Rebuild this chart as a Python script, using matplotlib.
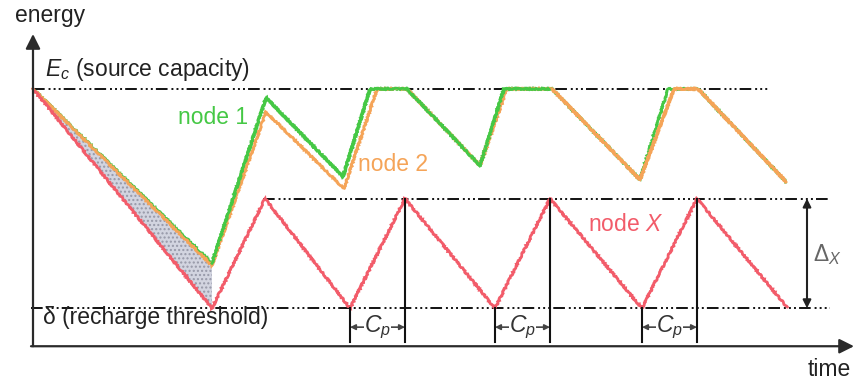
import matplotlib
matplotlib.use("Agg")
import matplotlib.pyplot as plt
import numpy as np

plt.rcParams['font.family'] = ['Liberation Sans', 'DejaVu Sans']
plt.rcParams['mathtext.fontset'] = 'custom'
plt.rcParams['mathtext.rm'] = 'Liberation Sans'
plt.rcParams['mathtext.it'] = 'Liberation Sans:italic'

# energy levels
E_C = 100
DELTA = 0
DELTA_X = 50

# node X (recharged every cycle)
t_x = [0, 17.9, 23.2, 31.7, 37.2, 46.2, 51.7, 60.9, 66.4, 75.4]
e_x = [100, 0, 50, 0, 50, 0, 50, 0, 50, 0.5]

# node 1
t_1 = [0, 17.9, 23.3, 31.0, 33.7, 37.4, 44.7, 47.1, 51.9, 60.7, 63.5, 66.5, 75.3]
e_1 = [100, 20.5, 96, 60, 100, 100, 65, 100, 100, 58.6, 100, 100, 57.7]

# node 2
t_2 = [0, 17.9, 23.3, 31.1, 34.4, 37.4, 44.7, 47.4, 51.9, 60.7, 64.1, 66.5, 75.3]
e_2 = [100, 19.5, 89.5, 54.5, 100, 100, 65, 100, 100, 58.6, 100, 100, 57.7]

GREEN = '#45c845'
ORANGE = '#f5a458'
RED = '#f25c6a'
FS = 16.5

fig = plt.figure(figsize=(8.54, 3.82), dpi=100)
ax = fig.add_axes([0, 0, 1, 1])
ax.set_xlim(-3.3, 82.1)
ax.set_ylim(-33.6, 140.5)
ax.axis('off')

# axes with arrows
ax.annotate('', xy=(0, 125), xytext=(0, -17.3),
            arrowprops=dict(arrowstyle='-|>', mutation_scale=22, lw=1.6,
                            color='#2a2a2a', shrinkA=0, shrinkB=0))
ax.annotate('', xy=(82.1, -17.3), xytext=(-0.2, -17.3),
            arrowprops=dict(arrowstyle='-|>', mutation_scale=22, lw=1.6,
                            color='#2a2a2a', shrinkA=0, shrinkB=0))
ax.text(-1.8, 133.5, 'energy', fontsize=FS, va='center', ha='left', color='#222')
ax.text(77.5, -27.7, 'time', fontsize=FS, va='center', ha='left', color='#222')

# reference levels
dots = (0, (6, 2, 1, 1.6, 1, 1.6, 1, 1.6))
ax.plot([0, 73.5], [E_C, E_C], color='#111', lw=1.4, ls=dots)
ax.plot([-0.2, 79.7], [DELTA, DELTA], color='#111', lw=1.4, ls=dots)
ax.plot([23.0, 79.7], [DELTA_X, DELTA_X], color='#111', lw=1.4, ls=dots)

# shaded gap between node 2 and node X during the first discharge
ax.fill_between(t_x[:2], e_2[:2], e_x[:2], facecolor='#d2d4e0',
                edgecolor='#9698a8', hatch='....', lw=0)

def wobbly(t, e, c):
    line, = ax.plot(t, e, color=c, lw=2.0, solid_joinstyle='miter')
    line.set_sketch_params(scale=0.7, length=3, randomness=4)

wobbly(t_1, e_1, GREEN)
wobbly(t_2, e_2, ORANGE)
wobbly(t_x, e_x, RED)
# node 1 over node 2 in the middle, node 2 on top again at the end
wobbly(t_1[1:9], e_1[1:9], GREEN)
wobbly(t_2[8:], e_2[8:], ORANGE)

# recharge periods C_p under node X
for i in (3, 5, 7):
    t0, t1 = t_x[i], t_x[i + 1]
    ax.plot([t0, t0], [e_x[i], -15.5], color='#111', lw=1.5)
    ax.plot([t1, t1], [e_x[i + 1], -15.5], color='#111', lw=1.5)
    ax.annotate('', xy=(t1, -8.6), xytext=(t0, -8.6),
                arrowprops=dict(arrowstyle='<|-|>', mutation_scale=8, lw=1.2,
                                color='#444', shrinkA=0, shrinkB=0))
    ax.text((t0 + t1) / 2, -8.8, '$C_p$', fontsize=FS, ha='center', va='center',
            color='#333', bbox=dict(fc='white', ec='none', pad=0.3))

# swing of node X
ax.annotate('', xy=(77.4, DELTA_X), xytext=(77.4, DELTA),
            arrowprops=dict(arrowstyle='<|-|>', mutation_scale=12, lw=1.5,
                            color='#222', shrinkA=0, shrinkB=0))
ax.text(78.0, 24.5, r'$\Delta_X$', fontsize=FS, ha='left', va='center', color='#666')

# labels
ax.text(1.2, 108.6, '$E_c$ (source capacity)', fontsize=FS, ha='left', va='center', color='#222')
ax.text(1.0, -4.0, 'δ (recharge threshold)', fontsize=FS, ha='left', va='center', color='#222')
ax.text(14.5, 87, 'node 1', fontsize=FS, ha='left', va='center', color=GREEN)
ax.text(32.5, 65.5, 'node 2', fontsize=FS, ha='left', va='center', color=ORANGE)
ax.text(55.5, 38, 'node $X$', fontsize=FS, ha='left', va='center', color=RED)

fig.savefig('out.png', dpi=100)
